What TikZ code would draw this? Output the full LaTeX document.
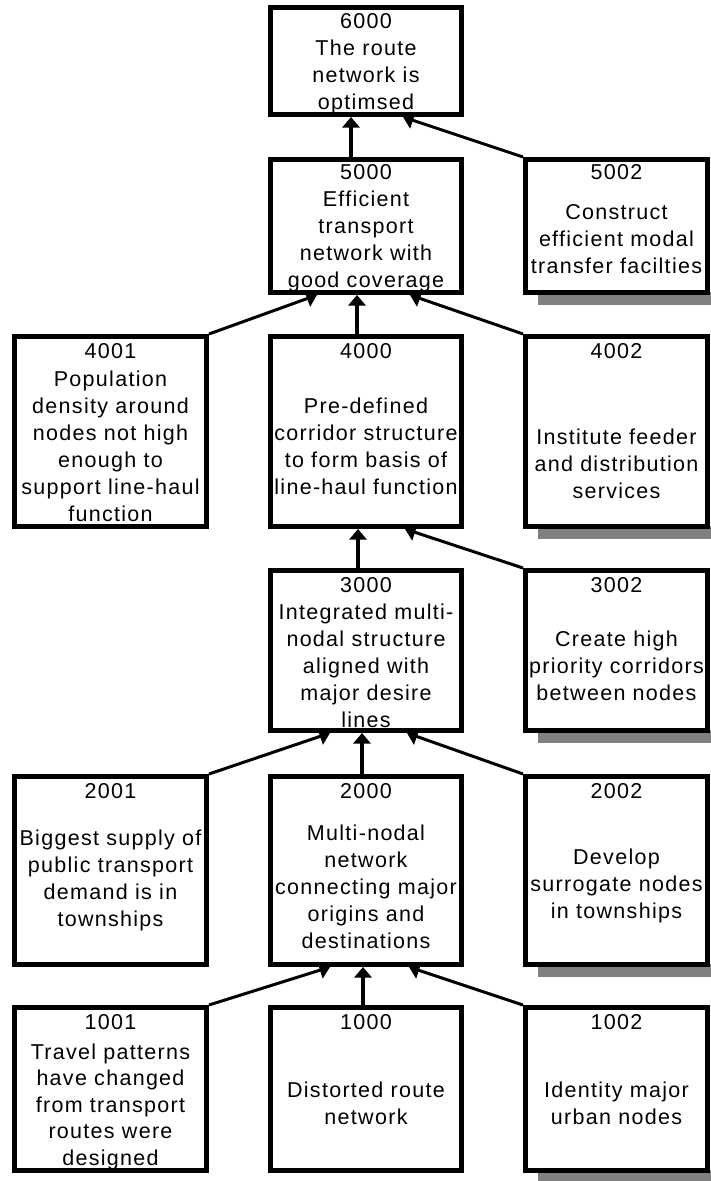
\documentclass[tikz,border=0pt]{standalone}
\usepackage{fontspec}
\setmainfont{Liberation Sans}[LetterSpace=6]
\usetikzlibrary{arrows.meta}
\definecolor{shadowgray}{HTML}{808080}
\tikzset{
  box/.style={draw=black, line width=5pt, fill=white, inner sep=0pt},
  colL/.style={minimum width=192pt},
  colM/.style={minimum width=191pt},
  colR/.style={minimum width=182pt},
  numtxt/.style={anchor=base, inner sep=0pt, font=\fontsize{21.5}{27}\selectfont},
  bodytxt/.style={anchor=north, align=center, inner sep=0pt, font=\fontsize{21.5}{27}\selectfont},
  conn/.style={line width=3.5pt, -{Triangle[length=10.5pt,width=17pt]}},
  boxshadow/.style={fill=shadowgray},
}
\begin{document}
\begin{tikzpicture}[x=1pt, y=1pt]
\useasboundingbox (0,0) rectangle (711,-1181);

% ---- grey shadows under the right-hand boxes ----
\foreach \bot in {295,529,733,967,1173} {
  \fill[boxshadow] (538,-\bot+3) rectangle (712,-\bot-10);
}

% ---- boxes, one row at a time from the top ----
\node[box, colM, minimum height=107pt] (b6000) at (366,-61) {};

\node[box, colM, minimum height=133pt] (b5000) at (366,-226) {};
\node[box, colR, minimum height=133pt] (b5002) at (616.5,-226) {};

\node[box, colL, minimum height=190pt] (b4001) at (110.5,-431.5) {};
\node[box, colM, minimum height=190pt] (b4000) at (366,-431.5) {};
\node[box, colR, minimum height=190pt] (b4002) at (616.5,-431.5) {};

\node[box, colM, minimum height=160pt] (b3000) at (366,-650.5) {};
\node[box, colR, minimum height=160pt] (b3002) at (616.5,-650.5) {};

\node[box, colL, minimum height=188pt] (b2001) at (110.5,-870.5) {};
\node[box, colM, minimum height=188pt] (b2000) at (366,-870.5) {};
\node[box, colR, minimum height=188pt] (b2002) at (616.5,-870.5) {};

\node[box, colL, minimum height=163pt] (b1001) at (110.5,-1089) {};
\node[box, colM, minimum height=163pt] (b1000) at (366,-1089) {};
\node[box, colR, minimum height=163pt] (b1002) at (616.5,-1089) {};

% ---- connectors ----
\draw[conn] ([xshift=-15pt]b5000.north) -- ([xshift=-15pt]b6000.south);
\draw[conn, line width=3pt] (b5002.north west) -- ([xshift=37pt]b6000.south);

\draw[conn, line width=3pt] (b4001.north east) -- ([xshift=-49pt]b5000.south);
\draw[conn] ([xshift=-9pt]b4000.north) -- ([xshift=-9pt]b5000.south);
\draw[conn, line width=3pt] (b4002.north west) -- ([xshift=44pt]b5000.south);

\draw[conn] ([xshift=-8pt]b3000.north) -- ([xshift=-8pt]b4000.south);
\draw[conn, line width=3pt] (b3002.north west) -- ([xshift=39pt]b4000.south);

\draw[conn, line width=3pt] (b2001.north east) -- ([xshift=-36pt]b3000.south);
\draw[conn] ([xshift=-4pt]b2000.north) -- ([xshift=-4pt]b3000.south);
\draw[conn, line width=3pt] (b2002.north west) -- ([xshift=41pt]b3000.south);

\draw[conn, line width=3pt] (b1001.north east) -- ([xshift=-36pt]b2000.south);
\draw[conn] ([xshift=-3pt]b1000.north) -- ([xshift=-3pt]b2000.south);
\draw[conn, line width=3pt] (b1002.north west) -- ([xshift=43pt]b2000.south);

% ---- box numbers ----
\node[numtxt] (n6000) at (366,-28) {6000};
\node[numtxt] (n5000) at (366,-179) {5000};
\node[numtxt] (n5002) at (616.5,-179) {5002};
\node[numtxt] (n4001) at (110.5,-358) {4001};
\node[numtxt] (n4000) at (366,-358) {4000};
\node[numtxt] (n4002) at (616.5,-358) {4002};
\node[numtxt] (n3000) at (366,-592) {3000};
\node[numtxt] (n3002) at (616.5,-592) {3002};
\node[numtxt] (n2001) at (110.5,-798) {2001};
\node[numtxt] (n2000) at (366,-798) {2000};
\node[numtxt] (n2002) at (616.5,-798) {2002};
\node[numtxt] (n1001) at (110.5,-1029) {1001};
\node[numtxt] (n1000) at (366,-1029) {1000};
\node[numtxt] (n1002) at (616.5,-1029) {1002};

% ---- box statements ----
\node[bodytxt] (s6000) at (366,-39.5) {The route\\network is\\optimsed};
\node[bodytxt] (s5000) at (366,-190.5) {Efficient\\transport\\network with\\good coverage};
\node[bodytxt] (s5002) at (616.5,-204.5) {Construct\\efficient modal\\transfer facilties};
\node[bodytxt] (s4001) at (110.5,-370.5) {Population\\density around\\nodes not high\\enough to\\support line-haul\\function};
\node[bodytxt] (s4000) at (366,-397.5) {Pre-defined\\corridor structure\\to form basis of\\line-haul function};
\node[bodytxt] (s4002) at (616.5,-428.5) {Institute feeder\\and distribution\\services};
\node[bodytxt] (s3000) at (366,-603.5) {Integrated multi-\\nodal structure\\aligned with\\major desire\\lines};
\node[bodytxt] (s3002) at (616.5,-630.5) {Create high\\priority corridors\\between nodes};
\node[bodytxt] (s2001) at (110.5,-829.5) {Biggest supply of\\public transport\\demand is in\\townships};
\node[bodytxt] (s2000) at (366,-824.5) {Multi-nodal\\network\\connecting major\\origins and\\destinations};
\node[bodytxt] (s2002) at (616.5,-848.5) {Develop\\surrogate nodes\\in townships};
\node[bodytxt, font=\fontsize{21.5}{26.5}\selectfont] (s1001) at (110.5,-1043.5) {Travel patterns\\have changed\\from transport\\routes were\\designed};
\node[bodytxt] (s1000) at (366,-1081.5) {Distorted route\\network};
\node[bodytxt] (s1002) at (616.5,-1081.5) {Identity major\\urban nodes};
\end{tikzpicture}
\end{document}
